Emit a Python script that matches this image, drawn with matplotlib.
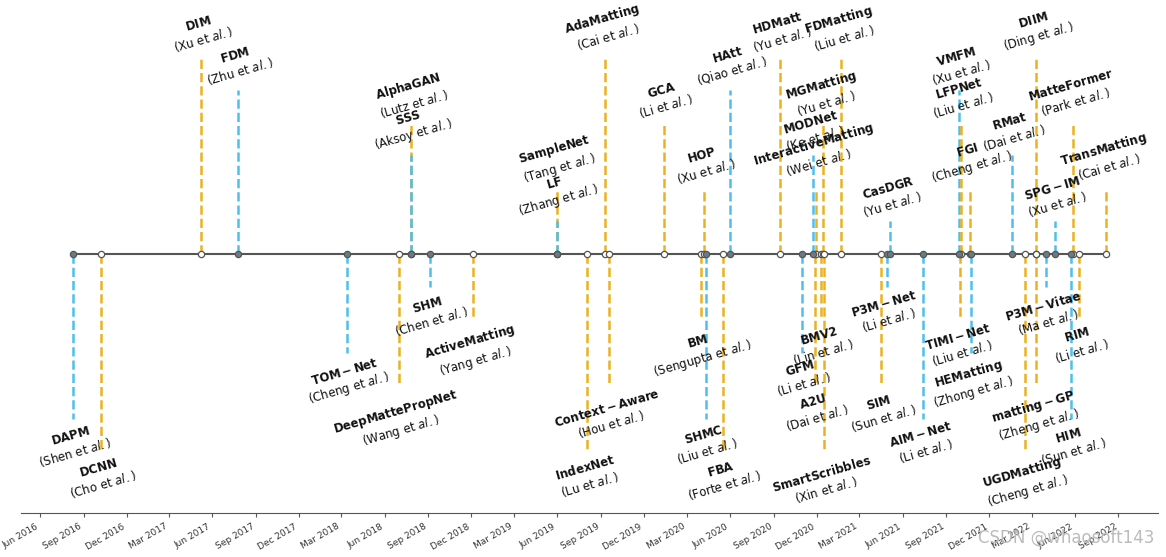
from datetime import datetime

import matplotlib

matplotlib.use("Agg")
import matplotlib.dates as mdates
import matplotlib.pyplot as plt
import numpy as np

# method names, first authors, dates, stem levels and input kind (1 = needs trimap/extra input)
names = [
    "DAPM", "DCNN", "DIM", "FDM", "TOM-Net", "DeepMattePropNet", "AlphaGAN", "SSS",
    "SHM", "ActiveMatting", "SampleNet", "LF", "IndexNet", "AdaMatting", "Context-Aware",
    "GCA", "BM", "HOP", "SHMC", "FBA", "HAtt", "HDMatt", "GFM", "MODNet", "A2U",
    "InteractiveMatting", "BMV2", "MGMatting", "SmartScribbles", "FDMatting", "SIM",
    "P3M-Net", "CasDGR", "AIM-Net", "VMFM", "TIMI-Net", "LFPNet", "FGI", "HEMatting",
    "RMat", "UGDMatting", "DIIM", "matting-GP", "P3M-Vitae", "SPG-IM", "HIM",
    "MatteFormer", "RIM", "TransMatting",
]
authors = [
    "Shen", "Cho", "Xu", "Zhu", "Cheng", "Wang", "Lutz", "Aksoy",
    "Chen", "Yang", "Tang", "Zhang", "Lu", "Cai", "Hou",
    "Li", "Sengupta", "Xu", "Liu", "Forte", "Qiao", "Yu", "Li", "Ke", "Dai",
    "Wei", "Lin", "Yu", "Xin", "Liu", "Sun",
    "Li", "Yu", "Li", "Xu", "Liu", "Liu", "Cheng", "Zhong",
    "Dai", "Cheng", "Ding", "Zheng", "Ma", "Xu", "Sun",
    "Park", "Li", "Cai",
]
dates = [
    "2016-08-09", "2016-10-07", "2017-05-08", "2017-07-25", "2018-03-13", "2018-06-30",
    "2018-07-26", "2018-07-27", "2018-09-04", "2018-12-04", "2019-05-31", "2019-05-31",
    "2019-08-03", "2019-09-10", "2019-09-19", "2020-01-13", "2020-03-31", "2020-04-07",
    "2020-04-10", "2020-05-17", "2020-06-01", "2020-09-15", "2020-10-31", "2020-11-24",
    "2020-11-28", "2020-11-30", "2020-12-11", "2020-12-15", "2020-12-16", "2021-01-22",
    "2021-04-17", "2021-04-29", "2021-05-06", "2021-07-15", "2021-09-29", "2021-10-01",
    "2021-10-03", "2021-10-22", "2021-10-24", "2022-01-19", "2022-02-15", "2022-03-11",
    "2022-03-11", "2022-04-01", "2022-04-20", "2022-05-24", "2022-05-28", "2022-06-10",
    "2022-08-06",
]
levels = [
    -5, -6, 6, 5, -3, -4, 4, 3,
    -1, -2, 2, 1, -6, 6, -4,
    4, -2, 2, -5, -6, 5, 6, -3, 3, -4,
    2, -2, 4, -6, 6, -4,
    -1, 1, -5, 5, -2, 4, 2, -3,
    3, -6, 6, -4, -1, 1, -5,
    4, -2, 2,
]
kinds = [
    0, 1, 1, 0, 0, 1, 1, 0,
    0, 1, 1, 0, 1, 1, 1,
    1, 1, 1, 0, 1, 0, 1, 0, 0, 1,
    1, 1, 1, 1, 1, 1,
    0, 0, 0, 0, 1, 1, 1, 0,
    0, 1, 1, 1, 0, 0, 0,
    1, 1, 1,
]

dates = [datetime.strptime(d, "%Y-%m-%d") for d in dates]
levels = np.array(levels)
kinds = np.array(kinds)
colors = np.where(kinds == 1, "#EDB120", "#4DBEEE")

fig = plt.figure(figsize=(11.66, 5.57), dpi=100)
ax = fig.add_axes([0.018, 0.079, 0.975, 0.921])

ax.vlines(dates, 0, levels, colors=colors, linestyles="--", linewidth=1.8)

# baseline with markers
ax.plot(dates, np.zeros(len(dates)), "-", color="#555555", linewidth=1.5, zorder=3)
d_arr = np.array(dates)
ax.plot(d_arr[kinds == 1], np.zeros((kinds == 1).sum()), "o", color="#555555",
        markerfacecolor="w", markersize=4.5, markeredgewidth=0.9, zorder=4)
ax.plot(d_arr[kinds == 0], np.zeros((kinds == 0).sum()), "o", color="#555555",
        markerfacecolor="#6c7a84", markersize=4.5, markeredgewidth=0.9, zorder=4)

for d, l, n, a in zip(dates, levels, names, authors):
    label = r"$\bf{" + n + "}$" + "\n(" + a + r" et $al.$)"
    ax.annotate(label, xy=(d, l), xytext=(0, np.sign(l) * 1),
                textcoords="offset points", ha="center",
                va="bottom" if l > 0 else "top", rotation=16,
                fontsize=8.5, color="#111111", multialignment="center")

ax.xaxis.set_major_locator(mdates.MonthLocator(bymonth=[3, 6, 9, 12]))
ax.xaxis.set_major_formatter(mdates.DateFormatter("%b %Y"))
plt.setp(ax.get_xticklabels(), rotation=30, ha="right", fontsize=6.5, color="#333333")
ax.tick_params(axis="x", length=3, color="#555555")

ax.yaxis.set_visible(False)
for s in ["left", "top", "right"]:
    ax.spines[s].set_visible(False)
ax.spines["bottom"].set_color("#555555")
ax.set_ylim(-7.87, 7.72)

fig.text(0.99, 0.018, "CSDN @whaosoft143", ha="right", va="bottom",
         fontsize=12, color="#bbbbbb")

fig.savefig("out.png", dpi=100)
